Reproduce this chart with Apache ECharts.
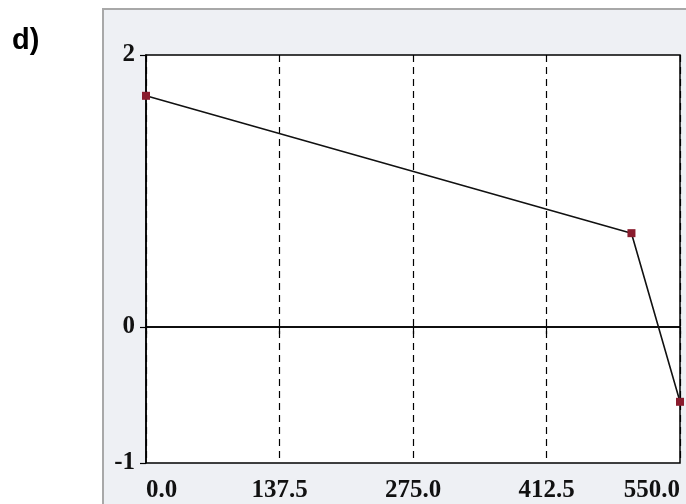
<!DOCTYPE html>
<html>
<head>
<meta charset="utf-8">
<script src="https://cdn.jsdelivr.net/npm/echarts@6/dist/echarts.min.js"></script>
<style>
  html, body { margin: 0; padding: 0; background: #ffffff; }
  #chart { width: 686px; height: 504px; }
</style>
</head>
<body>
<div id="chart"></div>
<script>
// Profile points along the section
const xValues = [0, 500, 550];
const yValues = [1.70, 0.69, -0.55];

// Axis ticks that carry labels
const xTicks = [0, 137.5, 275, 412.5, 550];
const yTicks = [-1, 0, 2];

const labelFont = {
  color: '#111',
  fontFamily: 'Liberation Serif, serif',
  fontWeight: 'bold',
  fontSize: 25
};

const chart = echarts.init(document.getElementById('chart'));

chart.setOption({
  animation: false,
  backgroundColor: '#ffffff',
  graphic: [
    {
      type: 'rect',
      left: 102, top: 8, z: -10,
      shape: { width: 590, height: 500 },
      style: { fill: '#eef0f4', stroke: '#a8a8a8', lineWidth: 2 }
    },
    {
      type: 'text',
      left: 12, top: 26,
      style: {
        text: 'd)',
        fill: '#000',
        font: 'bold 29px "Liberation Sans", Arial, sans-serif'
      }
    }
  ],
  grid: {
    left: 146, right: 6, top: 55, bottom: 41,
    outerBoundsMode: 'none',
    containLabel: false,
    show: true,
    backgroundColor: '#ffffff',
    borderColor: '#000',
    borderWidth: 1.5
  },
  xAxis: {
    type: 'value',
    min: 0, max: 550, interval: 137.5,
    axisLine: { show: true, lineStyle: { color: '#000', width: 1.5 } },
    axisTick: { show: true, length: 7, lineStyle: { color: '#000', width: 1.2 } },
    axisLabel: Object.assign({
      margin: 15,
      customValues: xTicks,
      hideOverlap: false,
      alignMinLabel: 'left',
      alignMaxLabel: 'right',
      formatter: v => v.toFixed(1)
    }, labelFont),
    splitLine: {
      show: true,
      lineStyle: { color: '#000', type: [7, 5], width: 1.2 }
    }
  },
  yAxis: {
    type: 'value',
    min: -1, max: 2, interval: 1,
    axisLine: { show: true, lineStyle: { color: '#000', width: 1.5 } },
    axisTick: { show: true, length: 6, customValues: yTicks, lineStyle: { color: '#000', width: 1.2 } },
    axisLabel: Object.assign({
      margin: 11,
      customValues: yTicks,
      formatter: v => String(v)
    }, labelFont),
    splitLine: { show: false }
  },
  series: [
    {
      type: 'line',
      data: xValues.map((x, i) => [x, yValues[i]]),
      symbol: 'rect',
      symbolSize: 8,
      showAllSymbol: true,
      lineStyle: { color: '#111', width: 1.6 },
      itemStyle: { color: '#8a1c2e' },
      markLine: {
        silent: true,
        symbol: 'none',
        label: { show: false },
        lineStyle: { color: '#000', type: 'solid', width: 1.5 },
        data: [{ yAxis: 0 }]
      },
      z: 5
    }
  ]
});
</script>
</body>
</html>
